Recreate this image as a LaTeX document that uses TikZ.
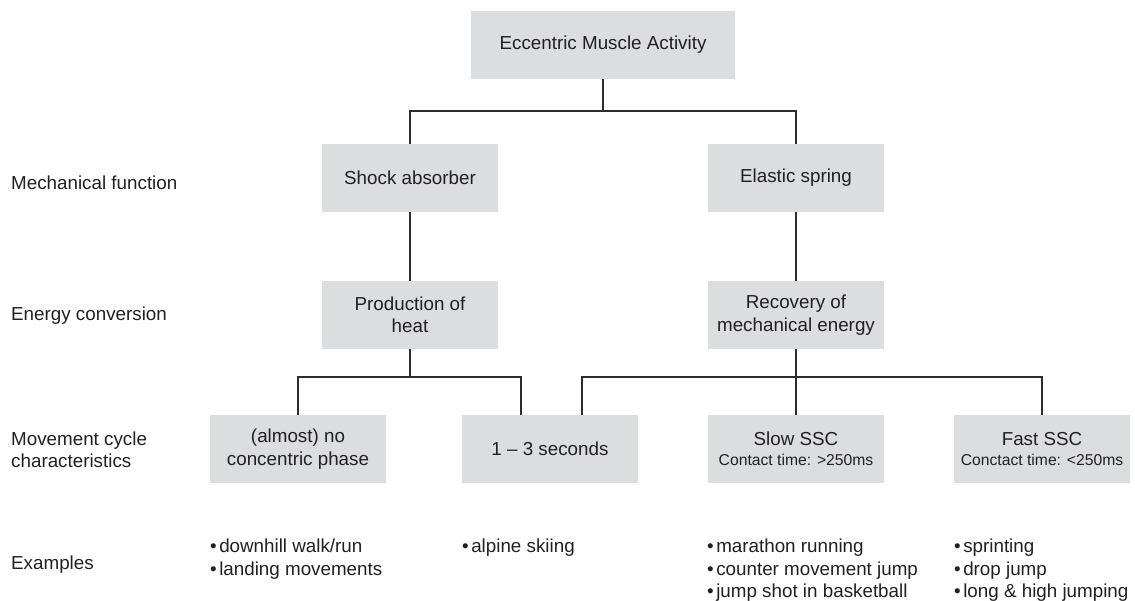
\documentclass[tikz,border=0pt]{standalone}
\usepackage{fontspec}
\setmainfont{Liberation Sans}
\definecolor{boxgray}{RGB}{220,221,223}
\definecolor{txt}{RGB}{35,31,32}
\definecolor{linec}{RGB}{45,45,45}
\begin{document}
\begin{tikzpicture}[x=1pt,y=-1pt,
  box/.style={fill=boxgray, minimum width=176pt, minimum height=68pt, inner sep=0pt,
    align=center, text=txt, font=\fontsize{18.8}{22.5}\selectfont},
  lbl/.style={inner sep=0pt, align=left, text=txt, font=\fontsize{18.8}{22.5}\selectfont},
  conn/.style={draw=linec, line width=1.1pt}]
\useasboundingbox (0,0) rectangle (1135,600);

% boxes
\node[box, minimum width=264pt] (top) at (603,45) {Eccentric Muscle Activity};
\node[box] (shock) at (410,178) {Shock absorber};
\node[box] (elastic) at (796,178) {Elastic spring};
\node[box] (heat) at (410,315) {Production of\\heat};
\node[box] (recov) at (796,315) {Recovery of\\mechanical energy};
\node[box] (nocon) at (298,449) {(almost) no\\concentric phase};
\node[box] (sec) at (550,449) {1 – 3 seconds};
\node[box] (slow) at (796,449) {Slow SSC\\[-2.5pt]{\fontsize{15.7}{20}\selectfont Contact time: >250ms}};
\node[box] (fast) at (1042,449) {Fast SSC\\[-2.5pt]{\fontsize{15.7}{20}\selectfont Conctact time: <250ms}};

% row labels
\node[lbl, anchor=base west] (lmech) at (11,189.5) {Mechanical function};
\node[lbl, anchor=base west] (lener) at (11,320.5) {Energy conversion};
\node[lbl, anchor=north west] (lmove) at (11,431.5) {Movement cycle\\characteristics};
\node[lbl, anchor=base west] (lex) at (11,569) {Examples};

% examples
\node[lbl, anchor=north west] (ex1) at (210,539) {•\hspace{2.5pt}downhill walk/run\\•\hspace{2.5pt}landing movements};
\node[lbl, anchor=north west] (ex2) at (462,539) {•\hspace{2.5pt}alpine skiing};
\node[lbl, anchor=north west] (ex3) at (707,539) {•\hspace{2.5pt}marathon running\\•\hspace{2.5pt}counter movement jump\\•\hspace{2.5pt}jump shot in basketball};
\node[lbl, anchor=north west] (ex4) at (954,539) {•\hspace{2.5pt}sprinting\\•\hspace{2.5pt}drop jump\\•\hspace{2.5pt}long \& high jumping};

% connectors
\coordinate (j1) at (603,111);
\coordinate (j2) at (0,377);
\coordinate (sA) at ([xshift=-29pt]sec.north);
\coordinate (sB) at ([xshift=32pt]sec.north);
\draw[conn] (top.south) -- (j1);
\draw[conn] (shock.north) -- (shock.north |- j1) -- (elastic.north |- j1) -- (elastic.north);
\draw[conn] (shock) -- (heat);
\draw[conn] (elastic) -- (recov);
\draw[conn] (heat.south) -- (heat.south |- j2);
\draw[conn] (nocon.north) -- (nocon.north |- j2) -- (sA |- j2) -- (sA);
\draw[conn] (recov) -- (slow);
\draw[conn] (sB) -- (sB |- j2) -- (fast.north |- j2) -- (fast.north);
\end{tikzpicture}
\end{document}
